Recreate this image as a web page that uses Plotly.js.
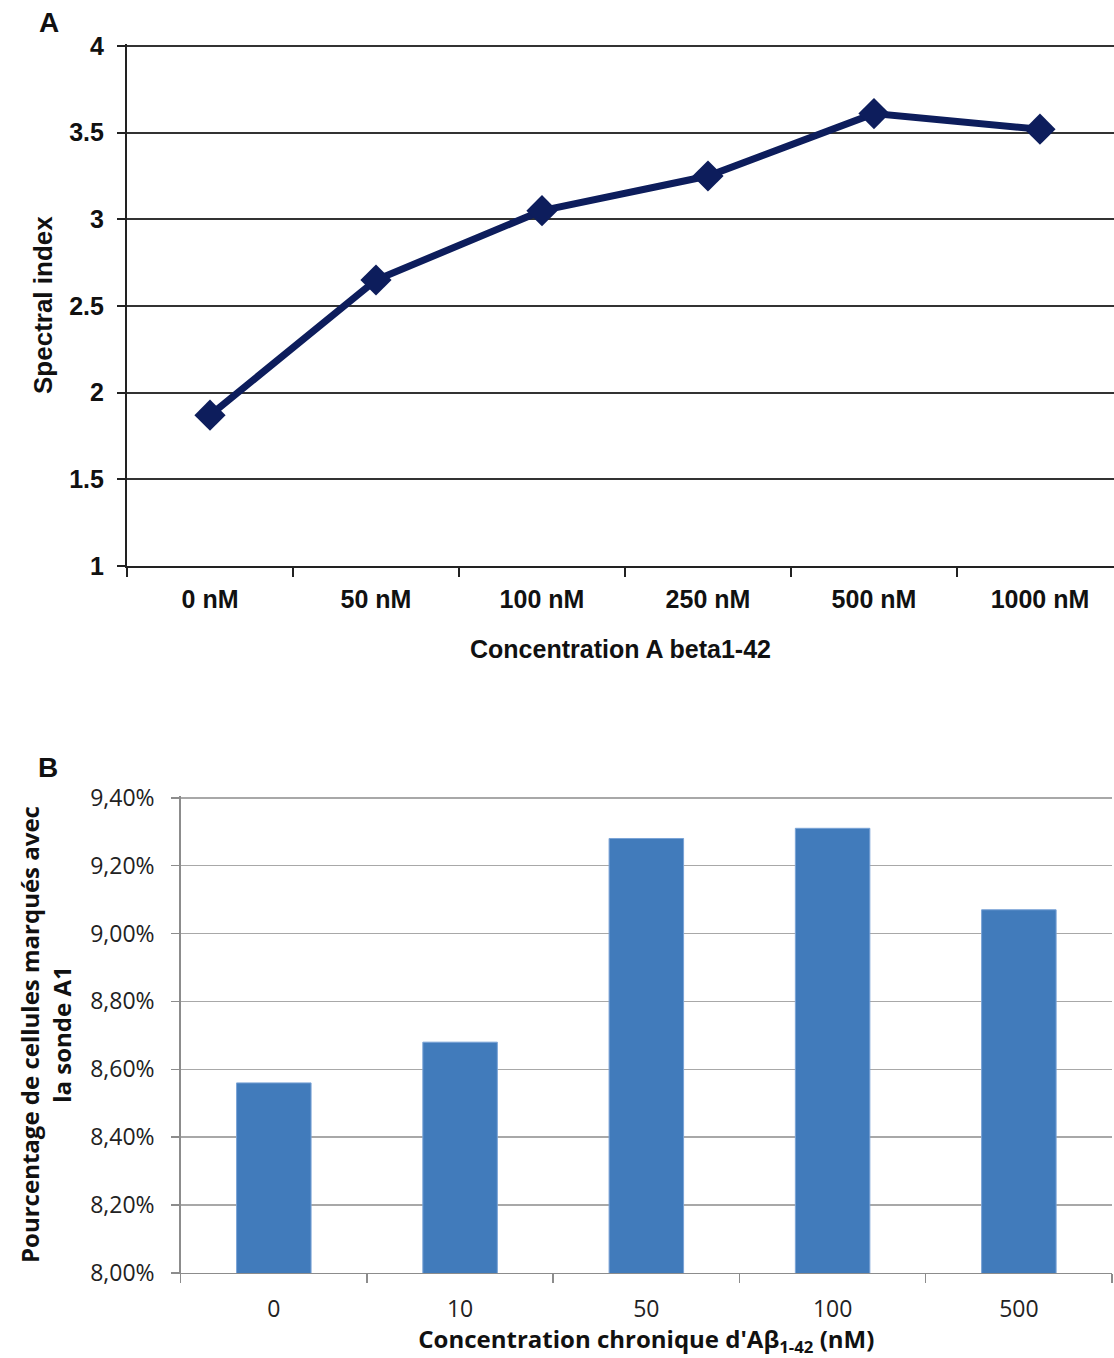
<!DOCTYPE html>
<html>
<head>
<meta charset="utf-8">
<script src="https://cdn.plot.ly/plotly-3.0.1.min.js"></script>
<style>html,body{margin:0;padding:0;background:#fff;}#chart{width:1114px;height:1358px;}</style>
</head>
<body>
<div id="chart"></div>
<script>
// Panel A data
const concA = ["0 nM", "50 nM", "100 nM", "250 nM", "500 nM", "1000 nM"];
const spectralIndex = [1.87, 2.65, 3.05, 3.25, 3.61, 3.52];
const yTicksA = [1, 1.5, 2, 2.5, 3, 3.5, 4];

// Panel B data
const concB = ["0", "10", "50", "100", "500"];
const pctLabelled = [8.56, 8.68, 9.28, 9.31, 9.07];
const yTicksB = [8.0, 8.2, 8.4, 8.6, 8.8, 9.0, 9.2, 9.4];
const yTickTextB = yTicksB.map(v => v.toFixed(2).replace('.', ',') + '%');

const fontA = "Liberation Sans, Arial, sans-serif";
const fontB = "Open Sans, Noto Sans, sans-serif";

const traces = [
  {
    type: 'scatter', mode: 'lines+markers',
    x: concA, y: spectralIndex, xaxis: 'x', yaxis: 'y',
    line: {color: '#0d1d5c', width: 7},
    marker: {symbol: 'diamond', size: 24, color: '#0d1d5c'},
    cliponaxis: false, showlegend: false
  },
  {
    type: 'bar', x: concB, y: pctLabelled, xaxis: 'x2', yaxis: 'y2',
    width: 0.4,
    marker: {color: '#417bbb', line: {color: '#7aa3d6', width: 1}},
    showlegend: false
  }
];

const layout = {
  width: 1114, height: 1358,
  margin: {l: 0, r: 0, t: 0, b: 0},
  paper_bgcolor: '#fff', plot_bgcolor: '#fff',
  showlegend: false,
  xaxis: {
    domain: [0.114, 1], anchor: 'y',
    type: 'category', range: [-0.5, 5.446],
    showgrid: false, zeroline: false,
    showline: true, linecolor: '#222', linewidth: 2,
    ticks: 'outside', tickson: 'boundaries', ticklen: 9, tickwidth: 2, tickcolor: '#222',
    ticklabelstandoff: 10,
    tickfont: {family: fontA, size: 25, color: '#111', weight: 'bold'},
    title: {text: 'Concentration A beta1-42', standoff: 28,
            font: {family: fontA, size: 25, color: '#111', weight: 'bold'}}
  },
  yaxis: {
    domain: [0.5832, 0.9674], anchor: 'x',
    range: [1, 4.01], tickvals: yTicksA,
    showgrid: true, gridcolor: '#333', gridwidth: 2,
    zeroline: false,
    showline: true, linecolor: '#222', linewidth: 2,
    ticks: 'outside', ticklen: 8, tickwidth: 2, tickcolor: '#222',
    ticklabelstandoff: 8,
    tickfont: {family: fontA, size: 25, color: '#111', weight: 'bold'},
    title: {text: 'Spectral index', standoff: 9,
            font: {family: fontA, size: 26, color: '#111', weight: 'bold'}}
  },
  xaxis2: {
    domain: [0.1622, 0.9982], anchor: 'y2',
    type: 'category', range: [-0.5, 4.5],
    showgrid: false, zeroline: false,
    showline: true, linecolor: '#8c8c8c', linewidth: 1.5,
    ticks: 'outside', tickson: 'boundaries', ticklen: 9, tickwidth: 1.5, tickcolor: '#8c8c8c',
    ticklabelstandoff: 15,
    tickfont: {family: fontB, size: 23, color: '#222'},
    title: {text: "Concentration chronique d'Aβ<sub>1-42</sub> (nM)", standoff: 6,
            font: {family: fontB, size: 24, color: '#111', weight: 'bold'}}
  },
  yaxis2: {
    domain: [0.0626, 0.4138], anchor: 'x2',
    range: [8.0, 9.405], tickvals: yTicksB, ticktext: yTickTextB,
    showgrid: true, gridcolor: '#a8a8a8', gridwidth: 1.5,
    zeroline: false,
    showline: true, linecolor: '#8c8c8c', linewidth: 1.5,
    ticks: 'outside', ticklen: 8, tickwidth: 1.5, tickcolor: '#8c8c8c',
    ticklabelstandoff: 12,
    tickfont: {family: fontB, size: 23, color: '#222'},
    title: {text: 'Pourcentage de cellules marqués avec<br>la sonde A1', standoff: 12,
            font: {family: fontB, size: 24, color: '#111', weight: 'bold'}}
  },
  annotations: [
    {text: 'A', xref: 'paper', yref: 'paper', x: 49/1114, y: 1 - 22/1358,
     xanchor: 'center', yanchor: 'middle', showarrow: false,
     font: {family: fontA, size: 28, color: '#111', weight: 'bold'}},
    {text: 'B', xref: 'paper', yref: 'paper', x: 48/1114, y: 1 - 767/1358,
     xanchor: 'center', yanchor: 'middle', showarrow: false,
     font: {family: fontA, size: 28, color: '#111', weight: 'bold'}}
  ]
};

Plotly.newPlot('chart', traces, layout, {staticPlot: true, displayModeBar: false});
</script>
</body>
</html>
